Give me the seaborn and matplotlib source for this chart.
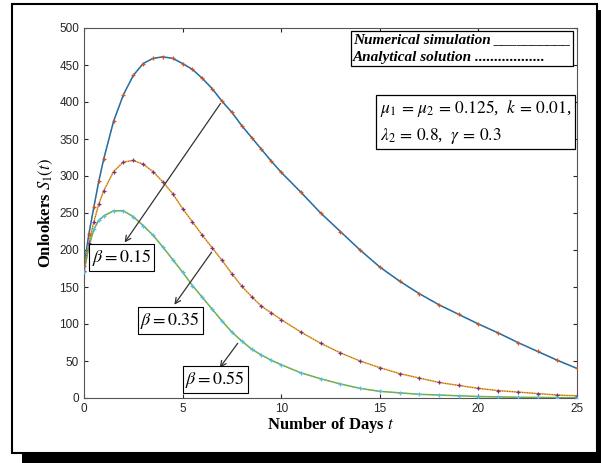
import numpy as np
import pandas as pd
import matplotlib
matplotlib.use("Agg")
import matplotlib.pyplot as plt
from matplotlib.patches import Rectangle
import seaborn as sns

# Days
t = [0, 0.25, 0.5, 0.75, 1, 1.5, 2, 2.5, 3, 3.5, 4, 4.5, 5, 5.5, 6, 6.5, 7, 7.5, 8, 8.5, 9, 9.5,
     10, 11, 12, 13, 14, 15, 16, 17, 18, 19, 20, 21, 22, 23, 24, 25]

# Onlookers S1(t) for each beta
s_beta015 = [178, 222, 258, 293, 323, 374, 410, 436, 452, 459, 461, 459, 452, 444, 432, 418,
             401, 386, 368, 352, 336, 320, 305, 278, 250, 225, 200, 177, 158, 141, 126, 113,
             100, 88, 75, 63, 51, 40]
s_beta035 = [172, 210, 238, 262, 280, 306, 319, 321, 316, 306, 292, 276, 256, 238, 220, 203,
             186, 168, 151, 137, 124, 115, 106, 89, 74, 61, 50, 41, 33, 27, 21, 17, 13, 10, 8,
             6, 4, 3]
s_beta055 = [170, 205, 228, 240, 246, 253, 253, 245, 233, 220, 204, 187, 170, 152, 136, 120,
             104, 89, 77, 66, 58, 51, 45, 34, 26, 19, 13, 9, 7, 5, 4, 3, 2, 1.5, 1, 0.8, 0.5,
             0.4]

betas = ["0.15", "0.35", "0.55"]
line_colors = ["#0072BD", "#EDB120", "#77AC30"]
marker_colors = ["#D95319", "#7E2F8E", "#4DBEEE"]

df = pd.concat([
    pd.DataFrame({"t": t, "S1": s, "beta": b})
    for s, b in zip([s_beta015, s_beta035, s_beta055], betas)
], ignore_index=True)

plt.rcParams["mathtext.fontset"] = "stix"

fig = plt.figure(figsize=(6.01, 4.63), dpi=100)

# framed page look with a drop shadow
fig.patches.append(Rectangle((22 / 601, 0), 1 - 22 / 601, 10 / 463, transform=fig.transFigure,
                             facecolor="black", edgecolor="none", zorder=0))
fig.patches.append(Rectangle((597 / 601, 0), 4 / 601, 453 / 463, transform=fig.transFigure,
                             facecolor="black", edgecolor="none", zorder=0))
fig.patches.append(Rectangle((12 / 601, 10 / 463), 585 / 601, 449 / 463, transform=fig.transFigure,
                             facecolor="none", edgecolor="black", linewidth=1.5, zorder=0))

ax = fig.add_axes([84 / 601, 1 - 398 / 463, (577 - 84) / 601, (398 - 28) / 463])

# numerical simulation (solid)
sns.lineplot(data=df, x="t", y="S1", hue="beta", palette=line_colors, linewidth=1.1,
             legend=False, ax=ax, zorder=2)
n_solid = len(ax.lines)
# analytical solution (fine dots with small markers)
sns.lineplot(data=df, x="t", y="S1", hue="beta", palette=marker_colors, linewidth=0.6,
             linestyle=(0, (1, 2)), marker="+", markersize=3.5, markeredgewidth=0.9,
             legend=False, ax=ax, zorder=3)
# seaborn paints marker edges white; give the plus markers their line colour
for ln in ax.lines[n_solid:]:
    ln.set_markeredgecolor(ln.get_color())

ax.set_xlim(0, 25)
ax.set_ylim(0, 500)
ax.set_xticks(np.arange(0, 26, 5))
ax.set_yticks(np.arange(0, 501, 50))
ax.tick_params(direction="in", length=3, labelsize=8.5, colors="#262626",
               top=True, right=True, labeltop=False, labelright=False)
for lbl in ax.get_xticklabels() + ax.get_yticklabels():
    lbl.set_fontfamily("Liberation Sans")
for sp in ax.spines.values():
    sp.set_color("#555555")
    sp.set_linewidth(0.8)

ax.set_xlabel("Number of Days $t$", fontfamily="Liberation Serif", fontweight="bold",
              fontsize=12, labelpad=0)
ax.set_ylabel("Onlookers $S_1(t)$", fontfamily="Liberation Serif", fontweight="bold",
              fontsize=12, labelpad=3)

# beta annotations
box = dict(boxstyle="square,pad=0.15", facecolor="white", edgecolor="black", linewidth=0.8)
arrow = dict(arrowstyle="->", color="#333333", linewidth=0.9)
ax.annotate("", xy=(1.98, 207), xytext=(7.0, 401), arrowprops=arrow)
ax.annotate("", xy=(4.5, 123), xytext=(6.55, 200), arrowprops=arrow)
ax.annotate("", xy=(6.8, 38), xytext=(7.88, 77), arrowprops=arrow)
ax.text(1.9, 190, r"$\beta = 0.15$", fontsize=13, ha="center", va="center", bbox=box)
ax.text(4.37, 105, r"$\beta = 0.35$", fontsize=13, ha="center", va="center", bbox=box)
ax.text(6.65, 25, r"$\beta = 0.55$", fontsize=13, ha="center", va="center", bbox=box)

# legend-like text box
ax.text(0.988, 0.985,
        "Numerical simulation __________\nAnalytical solution ..................",
        transform=ax.transAxes, ha="right", va="top", multialignment="left", fontsize=11,
        fontfamily="Liberation Serif", fontweight="bold", fontstyle="italic",
        linespacing=1.45,
        bbox=dict(boxstyle="square,pad=0.15", facecolor="white", edgecolor="black", linewidth=0.9))

# parameter box
ax.text(0.988, 0.81,
        "$\\mu_1 \\,=\\, \\mu_2 \\,=\\, 0.125$,  $k \\,=\\, 0.01$,\n$\\lambda_2 \\,=\\, 0.8$,  $\\gamma \\,=\\, 0.3$",
        transform=ax.transAxes, ha="right", va="top", multialignment="left", fontsize=12.5,
        fontfamily="Liberation Serif", linespacing=1.45,
        bbox=dict(boxstyle="square,pad=0.2", facecolor="white", edgecolor="black", linewidth=0.9))

fig.savefig("out.png", dpi=100)
